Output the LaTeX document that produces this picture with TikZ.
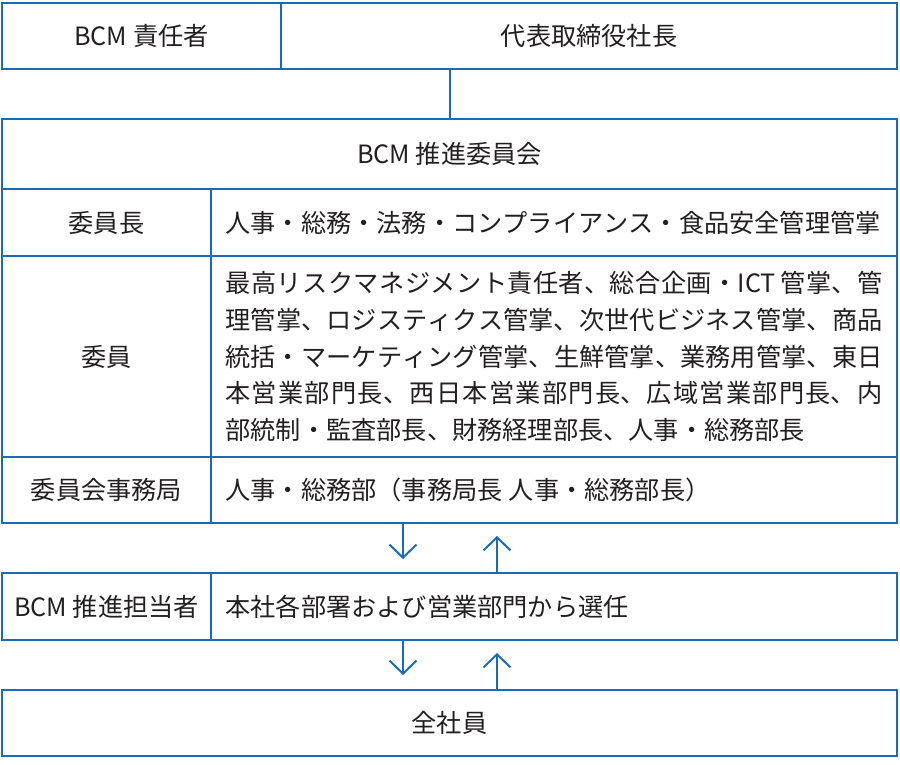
\documentclass[tikz,border=0pt]{standalone}
\usepackage{fontspec}
\setmainfont{Noto Sans CJK JP}
\usetikzlibrary{arrows.meta}
\definecolor{bcmblue}{RGB}{24,108,182}
\definecolor{ink}{RGB}{35,31,32}
\XeTeXlinebreaklocale "ja"
\XeTeXlinebreakskip=0pt plus 1pt

\begin{document}
\begin{tikzpicture}[x=1pt, y=-1pt,
  cellbox/.style={draw=bcmblue, line width=2pt, inner sep=0pt, outer sep=0pt, text=ink, font=\fontsize{25.2}{36.7}\selectfont},
  textcell/.style={cellbox, inner xsep=14.5pt, text width=657pt, align=left},
  link/.style={draw=bcmblue, line width=2pt},
  arr/.style={link, -{Straight Barb[length=13pt, width=27pt]}}]

\useasboundingbox (0,0) rectangle (900,765);

% top: person in charge
\node[cellbox, minimum width=279pt, minimum height=66pt] (resp) at (141.5,36) {BCM 責任者};
\node[cellbox, minimum width=616pt, minimum height=66pt] (pres) at (589,36) {代表取締役社長};

% committee
\node[cellbox, minimum width=895pt, minimum height=70pt] (comm) at (449.5,154) {BCM 推進委員会};
\node[cellbox, minimum width=209pt, minimum height=67pt] (chairl) at (106.5,222.5) {委員長};
\node[textcell, minimum height=67pt] (chairr) at (554,222.5) {人事・総務・法務・コンプライアンス・食品安全管理管掌};
\node[cellbox, minimum width=209pt, minimum height=201pt] (meml) at (106.5,356.5) {委員};
\node[textcell, align=justify, minimum height=201pt] (memr) at (554,356.5)
  {最高リスクマネジメント責任者、総合企画・ICT\hskip0.2em 管掌、管\linebreak
   理管掌、ロジスティクス管掌、次世代ビジネス管掌、商品\linebreak
   統括・マーケティング管掌、生鮮管掌、業務用管掌、東日\linebreak
   本営業部門長、西日本営業部門長、広域営業部門長、内\linebreak
   部統制・監査部長、財務経理部長、人事・総務部長};
\node[cellbox, minimum width=209pt, minimum height=66pt] (secl) at (106.5,490) {委員会事務局};
\node[textcell, minimum height=66pt] (secr) at (554,490) {人事・総務部（事務局長\hskip0.25em 人事・総務部長）};

% promoters
\node[cellbox, minimum width=209pt, minimum height=67pt] (staffl) at (106.5,606.5) {BCM 推進担当者};
\node[textcell, minimum height=67pt] (staffr) at (554,606.5) {本社各部署および営業部門から選任};

% all employees
\node[cellbox, minimum width=895pt, minimum height=66pt] (allstaff) at (449.5,723) {全社員};

% connectors
\draw[link] (pres.south -| comm.north) -- (comm.north);

\coordinate (down1) at (403,559);
\coordinate (up1) at (497,536);
\coordinate (down2) at (403,675);
\coordinate (up2) at (497,653);
\draw[arr] (secr.south -| down1) -- (down1);
\draw[arr] (staffr.north -| up1) -- (up1);
\draw[arr] (staffr.south -| down2) -- (down2);
\draw[arr] (allstaff.north -| up2) -- (up2);

\end{tikzpicture}
\end{document}
